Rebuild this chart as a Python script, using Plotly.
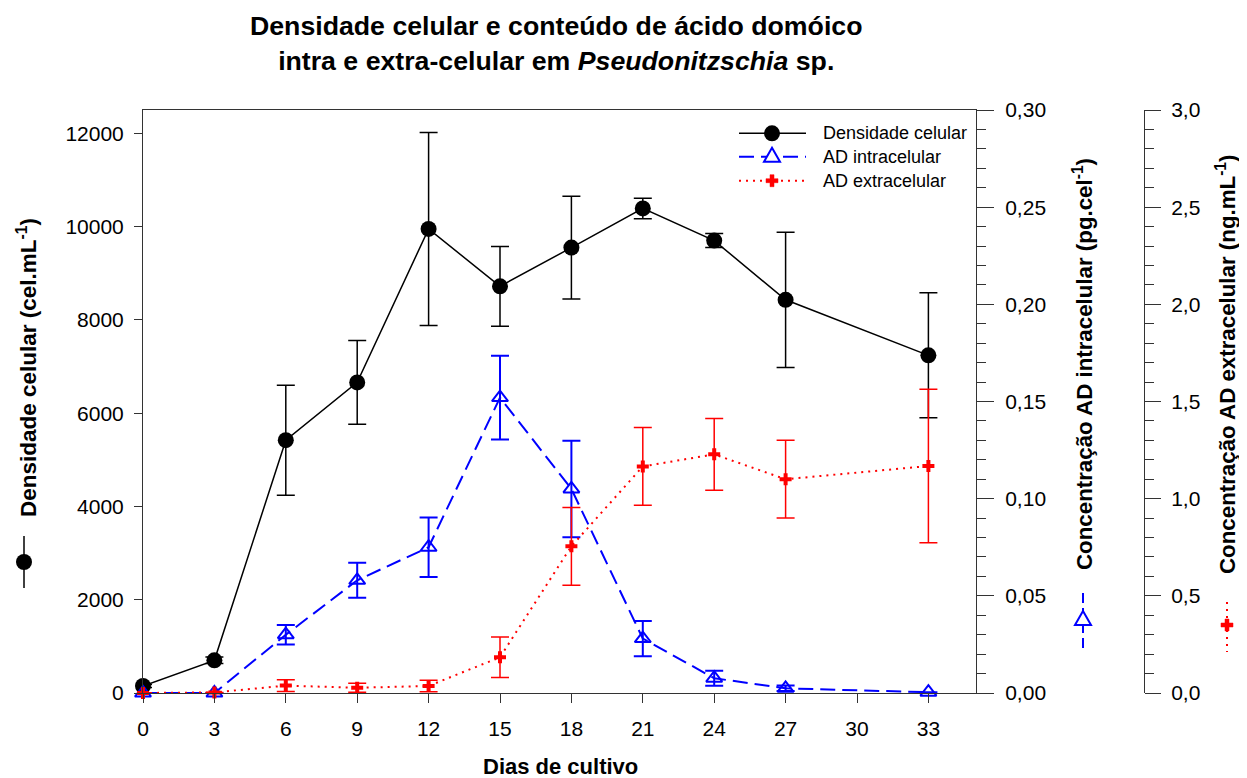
import plotly.graph_objects as go

# ---- data ----
dias = [0, 3, 6, 9, 12, 15, 18, 21, 24, 27, 33]
densidade = [150, 700, 5420, 6660, 9950, 8720, 9550, 10390, 9700, 8430, 7240]
densidade_err = [30, 70, 1180, 900, 2070, 855, 1100, 220, 150, 1450, 1340]
ad_intra = [0, 0, 0.030, 0.058, 0.075, 0.152, 0.105, 0.028, 0.0076, 0.0024, 0.0004]
ad_intra_err = [0, 0, 0.005, 0.009, 0.0153, 0.0216, 0.0248, 0.0091, 0.0039, 0.0014, 0]
ad_extra = [0, 0.003, 0.038, 0.027, 0.036, 0.184, 0.755, 1.166, 1.228, 1.10, 1.168]
ad_extra_err = [0, 0, 0.03, 0.023, 0.03, 0.104, 0.2, 0.2, 0.185, 0.2, 0.395]

x_ticks = [0, 3, 6, 9, 12, 15, 18, 21, 24, 27, 30, 33]
nomes = ["Densidade celular", "AD intracelular", "AD extracelular"]

FONT = "Liberation Sans, Arial, sans-serif"
AX = "#333333"
BLUE = "#0000FF"
RED = "#FF0000"

OFF = 8  # page body margin in the browser
W, H = 1247 - 2 * OFF, 778 - OFF
# plot area in page pixels: x 143..976 (outer axis at 1144), y 110..693
ML = 143 - OFF
MT = 110 - OFF
MB = H - (693 - OFF)
MR = W - (1144 - OFF)
PW = W - ML - MR
PH = H - MT - MB


def px(x):
    return (x - OFF - ML) / PW


def py(y):
    return (H - MB - (y - OFF)) / PH


fig = go.Figure()

fig.add_trace(go.Scatter(
    x=dias, y=densidade, name=nomes[0], mode="lines+markers",
    line=dict(color="black", width=1.5),
    marker=dict(symbol="circle", size=16, color="black"),
    error_y=dict(type="data", array=densidade_err, color="black", thickness=1.5, width=9),
    cliponaxis=False, showlegend=False))

fig.add_trace(go.Scatter(
    x=dias, y=ad_intra, name=nomes[1], mode="lines+markers", yaxis="y2",
    line=dict(color=BLUE, width=2, dash="15px,7px"),
    marker=dict(symbol="triangle-up-open", size=14, color=BLUE, line=dict(width=2, color=BLUE)),
    error_y=dict(type="data", array=ad_intra_err, color=BLUE, thickness=2, width=9),
    cliponaxis=False, showlegend=False))

fig.add_trace(go.Scatter(
    x=dias, y=ad_extra, name=nomes[2], mode="lines+markers", yaxis="y3",
    line=dict(color=RED, width=2, dash="2px,5px"),
    marker=dict(symbol="cross", size=10, color=RED),
    error_y=dict(type="data", array=ad_extra_err, color=RED, thickness=1.5, width=9),
    cliponaxis=False, showlegend=False))

xdom_end = px(976)

fig.update_layout(
    width=W, height=H,
    margin=dict(l=ML, r=MR, t=MT, b=MB, autoexpand=False),
    paper_bgcolor="white", plot_bgcolor="white",
    separators=",.",
    font=dict(family=FONT, size=21, color="black"),
    showlegend=False,
    xaxis=dict(
        domain=[0, xdom_end], range=[0, 35], tickvals=x_ticks,
        ticks="outside", ticklen=9, tickwidth=1, tickcolor=AX,
        showline=True, linecolor=AX, linewidth=1, mirror=True,
        showgrid=False, zeroline=False, tickfont=dict(size=21),
        ticklabelstandoff=8, automargin=False),
    yaxis=dict(
        range=[0, 12500], dtick=2000, tickformat="d",
        ticks="outside", ticklen=8, tickwidth=1, tickcolor=AX,
        showline=True, linecolor=AX, linewidth=1,
        showgrid=False, zeroline=False, tickfont=dict(size=21),
        ticklabelstandoff=6, automargin=False),
    yaxis2=dict(
        overlaying="y", side="right", anchor="x",
        range=[0, 0.30], dtick=0.05, tickformat=".2f",
        ticks="outside", ticklen=17, tickwidth=1, tickcolor=AX,
        minor=dict(dtick=0.01, ticks="outside", ticklen=9, tickwidth=1, tickcolor=AX),
        showline=True, linecolor=AX, linewidth=1,
        showgrid=False, zeroline=False, tickfont=dict(size=21),
        ticklabelstandoff=7, automargin=False),
    yaxis3=dict(
        overlaying="y", side="right", anchor="free", position=1.0,
        range=[0, 3.0], dtick=0.5, tickformat=".1f",
        ticks="outside", ticklen=16, tickwidth=1, tickcolor=AX,
        minor=dict(dtick=0.1, ticks="outside", ticklen=9, tickwidth=1, tickcolor=AX),
        showline=True, linecolor=AX, linewidth=1,
        showgrid=False, zeroline=False, tickfont=dict(size=21),
        ticklabelstandoff=6, automargin=False),
)

annotations = []
shapes = []

# Title
annotations.append(dict(
    text="<b>Densidade celular e conteúdo de ácido domóico<br>intra e extra-celular em <i>Pseudonitzschia</i> sp.</b>",
    xref="paper", yref="paper", x=px(556), y=py(43), xanchor="center", yanchor="middle",
    showarrow=False, font=dict(size=26.7, family=FONT, color="black")))

# X axis title
annotations.append(dict(
    text="<b>Dias de cultivo</b>",
    xref="paper", yref="paper", x=px(560), y=py(766), xanchor="center", yanchor="middle",
    showarrow=False, font=dict(size=22, family=FONT)))

# Y axis titles
annotations.append(dict(
    text="<b>Densidade celular (cel.mL<sup>-1</sup>)</b>", textangle=-90,
    xref="paper", yref="paper", x=px(27), y=py(368), xanchor="center", yanchor="middle",
    showarrow=False, font=dict(size=22.5, family=FONT)))
annotations.append(dict(
    text="<b>Concentração AD intracelular (pg.cel<sup>-1</sup>)</b>", textangle=-90,
    xref="paper", yref="paper", x=px(1083), y=py(364), xanchor="center", yanchor="middle",
    showarrow=False, font=dict(size=22.3, family=FONT)))
annotations.append(dict(
    text="<b>Concentração AD extracelular (ng.mL<sup>-1</sup>)</b>", textangle=-90,
    xref="paper", yref="paper", x=px(1226), y=py(365), xanchor="center", yanchor="middle",
    showarrow=False, font=dict(size=22.3, family=FONT)))


def circle_key(xp, yp, color, r=8):
    return dict(type="circle", xref="paper", yref="paper", xsizemode="pixel", ysizemode="pixel",
                xanchor=px(xp), yanchor=py(yp), x0=-r, x1=r, y0=-r, y1=r,
                fillcolor=color, line=dict(color=color, width=0))


def tri_key(xp, yp, color):
    return dict(type="path", xref="paper", yref="paper", xsizemode="pixel", ysizemode="pixel",
                xanchor=px(xp), yanchor=py(yp), path="M-8,-5 L8,-5 L0,9 Z",
                fillcolor="white", line=dict(color=color, width=2))


def cross_key(xp, yp, color):
    return dict(type="path", xref="paper", yref="paper", xsizemode="pixel", ysizemode="pixel",
                xanchor=px(xp), yanchor=py(yp),
                path="M-2,-6 H2 V-2 H6 V2 H2 V6 H-2 V2 H-6 V-2 H-2 Z",
                fillcolor=color, line=dict(color=color, width=0.5))


def line_shape(x0, y0, x1, y1, color, dash, width):
    return dict(type="line", xref="paper", yref="paper", x0=px(x0), y0=py(y0), x1=px(x1), y1=py(y1),
                line=dict(color=color, width=width, dash=dash))


# Keys beside axis titles
shapes.append(line_shape(24, 536, 24, 588, "black", "solid", 1.5))
shapes.append(circle_key(24, 562, "black"))
shapes.append(line_shape(1083, 593, 1083, 652, BLUE, "10px,5px", 2))
shapes.append(tri_key(1083, 620, BLUE))
shapes.append(line_shape(1227, 602, 1227, 652, RED, "2px,5px", 2))
shapes.append(cross_key(1227, 625, RED))

# Legend (inside plot, top right)
rows = [133.3, 156.7, 180.7]
styles = [("black", "solid", 1.5), (BLUE, "15px,7px", 2), (RED, "2px,5px", 2)]
for i, (nome, yy, (c, d, w)) in enumerate(zip(nomes, rows, styles)):
    shapes.append(line_shape(739, yy, 806, yy, c, d, w))
    if i == 0:
        shapes.append(circle_key(772, yy, c))
    elif i == 1:
        shapes.append(tri_key(772, yy, c))
    else:
        shapes.append(cross_key(772, yy, c))
    annotations.append(dict(text=nome, xref="paper", yref="paper", x=px(821), y=py(yy),
                            xanchor="left", yanchor="middle", showarrow=False,
                            font=dict(size=18, family=FONT)))

fig.update_layout(annotations=annotations, shapes=shapes)

fig.write_html("out.html")
